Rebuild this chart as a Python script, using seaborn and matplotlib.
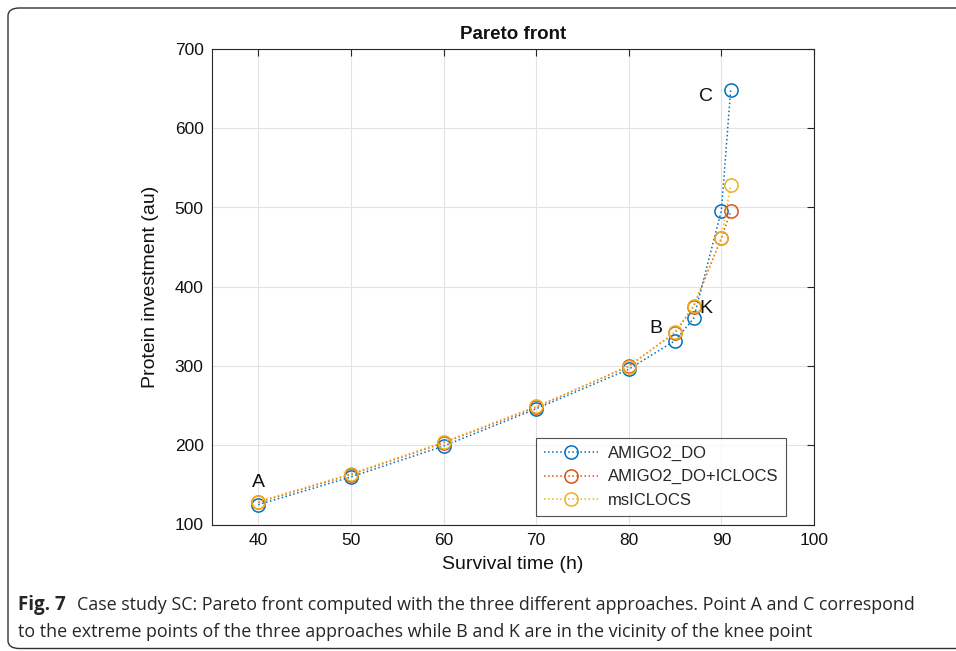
import matplotlib
matplotlib.use("Agg")
import matplotlib.pyplot as plt
import seaborn as sns
import pandas as pd
from matplotlib.patches import FancyBboxPatch

sns.set_theme(style="white")
plt.rcParams['font.family'] = ['Liberation Sans', 'DejaVu Sans']

survival = [40, 50, 60, 70, 80, 85, 87, 90, 91]
amigo = [125, 160, 199, 246, 296, 332, 360, 496, 648]
amigo_iclocs = [128, 163, 203, 248, 300, 342, 375, 461, 495]
msiclocs = [129, 164, 204, 249, 299, 343, 376, 462, 528]
series_names = ["AMIGO2_DO", "AMIGO2_DO+ICLOCS", "msICLOCS"]
colors = ["#0072BD", "#D95319", "#EDB120"]
point_labels = ["A", "B", "K", "C"]
label_pos = [(40, 153), (82.9, 347), (88.3, 373), (88.3, 640)]
xticks = [40, 50, 60, 70, 80, 90, 100]
yticks = [100, 200, 300, 400, 500, 600, 700]

df = pd.concat([
    pd.DataFrame({"x": survival, "y": vals, "s": name})
    for name, vals in zip(series_names, [amigo, amigo_iclocs, msiclocs])
])

fig = plt.figure(figsize=(9.56, 6.51), dpi=100)
ax = fig.add_axes([212/956, 1-524.5/651, (814-212)/956, (524.5-49)/651])

for name, col in zip(series_names, colors):
    sub = df[df.s == name]
    sns.lineplot(data=sub, x="x", y="y", ax=ax, color=col, linestyle=":",
                 linewidth=1.1, marker="o", markersize=9.5, markerfacecolor="none",
                 markeredgecolor=col, markeredgewidth=1.1, label=name, sort=False)

ax.set_xlim(35, 100)
ax.set_ylim(100, 700)
ax.set_xticks(xticks)
ax.set_yticks(yticks)
ax.grid(True, color="#e3e3e3", linewidth=0.8)
ax.set_axisbelow(True)
for sp in ax.spines.values():
    sp.set_color("#262626")
    sp.set_linewidth(0.8)
ax.tick_params(direction="in", length=5, width=0.8, color="#262626",
               top=True, right=True, labelsize=12.5, pad=6, labelcolor="#111111")
ax.set_xlabel("Survival time (h)", fontsize=14, color="#111111", labelpad=6)
ax.set_ylabel("Protein investment (au)", fontsize=14, color="#111111", labelpad=11)
ax.set_title("Pareto front", fontsize=13.5, fontweight="bold", pad=7, color="#111111")

for t, (px, py) in zip(point_labels, label_pos):
    ax.text(px, py, t, fontsize=14, ha="center", va="center", color="#111111")

leg = ax.legend(loc="lower right", bbox_to_anchor=(0.968, 0.0), fontsize=12,
                frameon=True, fancybox=False, edgecolor="#262626",
                handlelength=3.2, borderpad=0.5, labelspacing=0.5,
                handletextpad=0.6)
leg.get_frame().set_linewidth(0.8)

border = FancyBboxPatch((8/956, 3/651), 1.2, 640/651,
                        boxstyle="round,pad=0,rounding_size=0.012",
                        transform=fig.transFigure, fill=False,
                        edgecolor="#333333", linewidth=1.0, clip_on=False)
border.set_bounds(8/956, 1-648.5/651, 1.2, (648.5-8)/651)
fig.patches.append(border)

cap_font = ['Liberation Sans Narrow', 'Open Sans']
fig.text(18/956, 1-605/651, "Fig. 7", fontsize=13.5, fontweight="bold",
         family=cap_font, va="center", ha="left")
fig.text(77/956, 1-605/651,
         "Case study SC: Pareto front computed with the three different approaches. Point A and C correspond",
         fontsize=12.9, family=cap_font, va="center", ha="left")
fig.text(18/956, 1-632/651,
         "to the extreme points of the three approaches while B and K are in the vicinity of the knee point",
         fontsize=12.9, family=cap_font, va="center", ha="left")

fig.savefig("out.png", dpi=100)
